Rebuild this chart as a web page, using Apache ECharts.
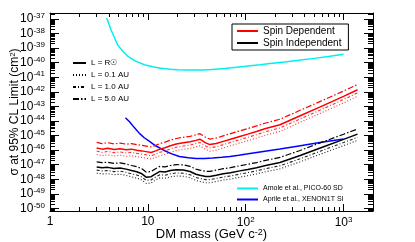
<!DOCTYPE html>
<html><head><meta charset="utf-8">
<script src="https://cdn.jsdelivr.net/npm/echarts@6/dist/echarts.min.js"></script>
<style>html,body{margin:0;padding:0;background:#fff}#c{width:415px;height:242px}</style>
</head><body><div id="c"></div>
<script>
// ---- data (limits stored as log10 of cross-section in cm^2) ----
const massPico = [3.8,4.2,4.9,5.6,6.2,7.5,9.2,11.5,13.7,17,20,25,30,37,45,61,80,100,140,177,250,350,500,700,1000];
const picoSD   = [-36.95,-37.75,-38.78,-39.25,-39.55,-39.9,-40.15,-40.3,-40.38,-40.45,-40.49,-40.51,-40.51,-40.5,-40.48,-40.4,-40.32,-40.25,-40.14,-40.06,-39.95,-39.84,-39.71,-39.58,-39.42];

const massXenon = [5.9,6.5,7.2,8.2,9.2,10.4,12,14.2,17,21,26,31,38,46,57,69,85,102,140,224,350,550,1000];
const xenonSI   = [-43.78,-44.05,-44.42,-44.85,-45.15,-45.4,-45.7,-45.97,-46.22,-46.43,-46.52,-46.57,-46.57,-46.54,-46.49,-46.43,-46.35,-46.27,-46.13,-45.92,-45.71,-45.5,-45.24];

const massLimits = [3.0,3.4,3.9,4.5,5.2,6.0,6.8,7.7,8.7,9.6,10.8,12,13.3,15,17,19.5,23,27,31,34,39,43,50,59,70,87,105,129,160,224,360,578,1000,1390];

const sdRsun = [-45.85,-45.93,-45.87,-45.95,-45.9,-45.97,-45.93,-46.0,-46.05,-46.1,-46.16,-46.05,-45.93,-45.83,-45.7,-45.58,-45.5,-45.43,-45.33,-45.25,-45.5,-45.62,-45.55,-45.4,-45.25,-45.06,-44.9,-44.72,-44.52,-44.26,-43.64,-43.03,-42.31,-41.86];
const sd50 = [-45.47,-45.55,-45.49,-45.57,-45.52,-45.59,-45.55,-45.62,-45.67,-45.72,-45.78,-45.67,-45.55,-45.45,-45.32,-45.2,-45.12,-45.05,-44.95,-44.87,-45.12,-45.24,-45.17,-45.02,-44.87,-44.68,-44.52,-44.34,-44.14,-43.88,-43.27,-42.66,-41.95,-41.5];
const sd10 = [-46.07,-46.15,-46.09,-46.17,-46.12,-46.19,-46.15,-46.22,-46.27,-46.32,-46.38,-46.27,-46.15,-46.05,-45.92,-45.8,-45.72,-45.65,-45.55,-45.47,-45.72,-45.84,-45.77,-45.62,-45.47,-45.28,-45.12,-44.94,-44.74,-44.48,-43.86,-43.25,-42.53,-42.08];
const sd01 = [-46.3,-46.38,-46.32,-46.4,-46.35,-46.42,-46.38,-46.45,-46.5,-46.55,-46.61,-46.5,-46.38,-46.28,-46.15,-46.03,-45.95,-45.88,-45.78,-45.7,-45.95,-46.07,-46.0,-45.85,-45.7,-45.51,-45.35,-45.17,-44.97,-44.71,-44.09,-43.48,-42.76,-42.31];

const siRsun = [-47.15,-47.2,-47.18,-47.25,-47.22,-47.3,-47.4,-47.48,-47.62,-47.85,-47.82,-47.62,-47.46,-47.5,-47.4,-47.34,-47.36,-47.46,-47.65,-47.72,-47.8,-47.8,-47.72,-47.62,-47.55,-47.42,-47.32,-47.2,-47.05,-46.85,-46.37,-45.85,-45.26,-44.9];
const si50 = [-46.8,-46.85,-46.83,-46.9,-46.87,-46.95,-47.05,-47.13,-47.27,-47.5,-47.47,-47.27,-47.11,-47.15,-47.05,-46.99,-47.01,-47.11,-47.3,-47.37,-47.45,-47.45,-47.37,-47.27,-47.2,-47.07,-46.97,-46.85,-46.7,-46.5,-46.02,-45.5,-44.91,-44.55];
const si10 = [-47.37,-47.42,-47.4,-47.47,-47.44,-47.52,-47.62,-47.7,-47.84,-48.07,-48.04,-47.84,-47.68,-47.72,-47.62,-47.56,-47.58,-47.68,-47.87,-47.94,-48.02,-48.02,-47.94,-47.84,-47.77,-47.64,-47.54,-47.42,-47.27,-47.07,-46.59,-46.07,-45.48,-45.12];
const si01 = [-47.58,-47.63,-47.61,-47.68,-47.65,-47.73,-47.83,-47.91,-48.05,-48.28,-48.25,-48.05,-47.89,-47.93,-47.83,-47.77,-47.79,-47.89,-48.08,-48.15,-48.23,-48.23,-48.15,-48.05,-47.98,-47.85,-47.75,-47.63,-47.48,-47.28,-46.8,-46.28,-45.69,-45.33];

const xTickLabels = [1, 10, 100, 1000];
const yTickExponents = [-50,-49,-48,-47,-46,-45,-44,-43,-42,-41,-40,-39,-38,-37];

// ---- build ----
const FONT = 'Liberation Sans';
const xMin = 1, xMax = 2000;
// y axis: decades (log10 of cm^2); ECharts' log scale cannot hold 1e-50, so the value axis carries the exponent
const yMin = -50.17, yMax = -36.6;
const xMinor = [];
for (let n = 0; n <= 3; n++) for (let k = 2; k <= 9; k++) { const v = k * Math.pow(10, n); if (v < xMax) xMinor.push(v); }
const yMinor = [];
for (let e = -51; e <= -37; e++) for (let k = 2; k <= 9; k++) { const v = e + Math.log10(k); if (v > yMin && v < yMax) yMinor.push(v); }

const pairs = (m, l) => m.map((x, i) => [x, l[i]]);

const DOT = [1, 2], DASHDOT_S = [3, 2, 1, 2], DASHDOT_L = [6, 2, 1.5, 2];
const richSup = (b, s) => ({ b: { fontSize: b, fontFamily: FONT, color: '#000', lineHeight: b + 2 }, s: { fontSize: s, fontFamily: FONT, color: '#000', verticalAlign: 'top', lineHeight: s + 1 } });

function xAxisDef(pos, major, showLabel) {
  return {
    type: 'log', logBase: 10, min: xMin, max: xMax, position: pos, gridIndex: 0,
    axisLine: { show: major, lineStyle: { color: '#000', width: 1 } },
    axisTick: { show: true, inside: true, length: major ? 7 : 4, customValues: major ? xTickLabels : xMinor, lineStyle: { color: '#000', width: 1 } },
    axisLabel: showLabel ? {
      show: true, customValues: xTickLabels, margin: 5, color: '#000', fontFamily: FONT, fontSize: 12,
      formatter: v => { const e = Math.round(Math.log10(v)); if (e === 0) return '1'; if (e === 1) return '10'; return '{b|10}{s|' + e + '}'; },
      rich: richSup(12, 8)
    } : { show: false },
    splitLine: { show: false }, minorTick: { show: false },
    name: showLabel ? 'DM mass (GeV c{s|-2})' : '', nameLocation: 'middle', nameGap: 17, nameMoveOverlap: false,
    nameTextStyle: { fontSize: 13, fontFamily: FONT, color: '#000', rich: richSup(13, 9) }
  };
}
function yAxisDef(pos, major, showLabel) {
  return {
    type: 'value', min: yMin, max: yMax, position: pos, gridIndex: 0,
    axisLine: { show: major, lineStyle: { color: '#000', width: 1 } },
    axisTick: { show: true, inside: true, length: major ? 9 : 5, customValues: major ? yTickExponents : yMinor, lineStyle: { color: '#000', width: 1 } },
    axisLabel: showLabel ? {
      show: true, customValues: yTickExponents, margin: 5, color: '#000', fontFamily: FONT,
      formatter: v => '{b|10}{s|' + Math.round(v) + '}',
      rich: richSup(12, 8)
    } : { show: false },
    splitLine: { show: false }, minorTick: { show: false },
    name: showLabel ? 'σ at 95% CL Limit (cm{s|2})' : '', nameLocation: 'middle', nameGap: 29, nameRotate: 90, nameMoveOverlap: false,
    nameTextStyle: { fontSize: 12, fontFamily: FONT, color: '#000', rich: richSup(12, 8) }
  };
}

function line(name, m, l, color, type, width) {
  return { name, type: 'line', xAxisIndex: 0, yAxisIndex: 0, data: pairs(m, l), symbol: 'none', smooth: false,
    lineStyle: { color, width, type }, itemStyle: { color }, z: 3 };
}
function dummy(name, type) {
  return { name, type: 'line', data: [], symbol: 'none', lineStyle: { color: '#000', width: 1.2, type }, itemStyle: { color: '#000' } };
}
const noSym = { opacity: 0 };

const option = {
  animation: false,
  backgroundColor: '#fff',
  grid: { left: 50, right: 42, top: 13, bottom: 31, containLabel: false, outerBoundsMode: 'none' },
  xAxis: [xAxisDef('bottom', true, true), xAxisDef('bottom', false, false), xAxisDef('top', true, false), xAxisDef('top', false, false)],
  yAxis: [yAxisDef('left', true, true), yAxisDef('left', false, false), yAxisDef('right', true, false), yAxisDef('right', false, false)],
  legend: [
    { data: ['Spin Dependent', 'Spin Independent'], selectedMode: false, orient: 'vertical', left: 232, top: 24,
      borderColor: '#000', borderWidth: 1, padding: [2, 7, 2, 4], itemWidth: 21, itemHeight: 10, itemGap: 2, itemStyle: noSym,
      textStyle: { fontSize: 10, fontFamily: FONT, color: '#000' } },
    { data: ['L = R☉', 'L = 0.1 AU', 'L = 1.0 AU', 'L = 5.0 AU'], selectedMode: false, orient: 'vertical', left: 72, top: 59,
      padding: 0, itemWidth: 13, itemHeight: 8, itemGap: 4, itemStyle: noSym,
      textStyle: { fontSize: 8, fontFamily: FONT, color: '#000' } },
    { data: ['Amole et al., PICO-60 SD', 'Aprile et al., XENON1T SI'], selectedMode: false, orient: 'vertical', left: 236, top: 185,
      padding: 0, itemWidth: 21, itemHeight: 8, itemGap: 4, itemStyle: noSym,
      textStyle: { fontSize: 7, fontFamily: FONT, color: '#000' } }
  ],
  series: [
    line('Amole et al., PICO-60 SD', massPico, picoSD, '#00f0f0', 'solid', 1.5),
    line('Aprile et al., XENON1T SI', massXenon, xenonSI, '#0000ff', 'solid', 1.5),
    line('SD 5.0', massLimits, sd50, '#ff0000', DASHDOT_L, 1.2),
    line('Spin Dependent', massLimits, sdRsun, '#ff0000', 'solid', 1.5),
    line('SD 1.0', massLimits, sd10, '#ff3030', DASHDOT_S, 1.1),
    line('SD 0.1', massLimits, sd01, '#ff3030', DOT, 1.1),
    line('SI 5.0', massLimits, si50, '#000000', DASHDOT_L, 1.2),
    line('Spin Independent', massLimits, siRsun, '#000000', 'solid', 1.5),
    line('SI 1.0', massLimits, si10, '#202020', DASHDOT_S, 1.1),
    line('SI 0.1', massLimits, si01, '#202020', DOT, 1.1),
    dummy('L = R☉', 'solid'), dummy('L = 0.1 AU', DOT), dummy('L = 1.0 AU', DASHDOT_S), dummy('L = 5.0 AU', DASHDOT_L)
  ]
};
const chart = echarts.init(document.getElementById('c'), null, { renderer: 'canvas' });
chart.setOption(option);
</script></body></html>
